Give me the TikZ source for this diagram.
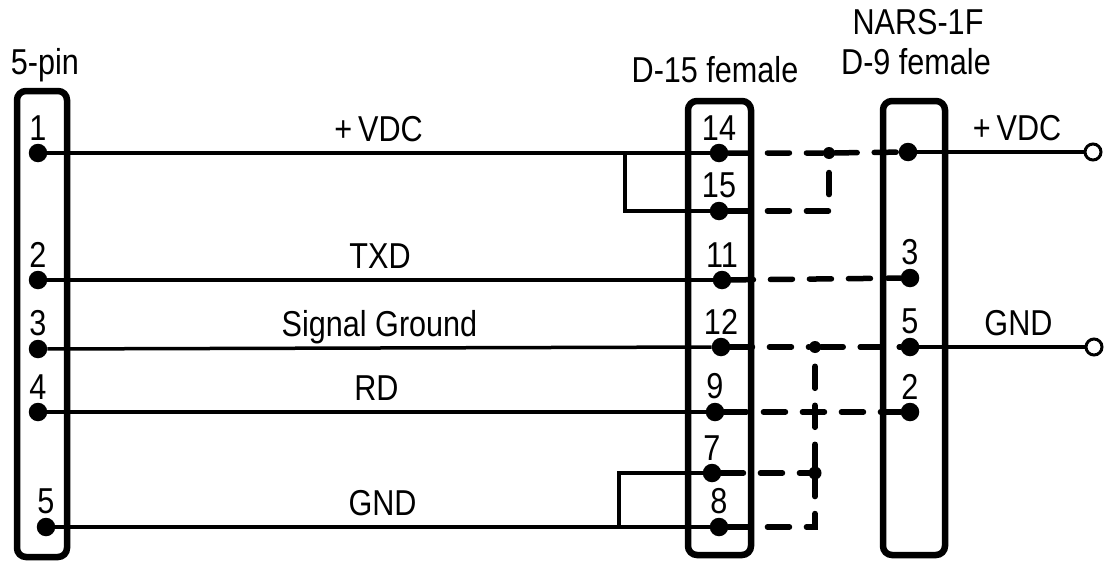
\documentclass[tikz,border=0pt]{standalone}
\usepackage{fontspec}
\setmainfont{Liberation Sans}[FakeStretch=0.85]

\tikzset{
  conn/.style={line width=6.5pt, rounded corners=9pt},
  wire/.style={line width=3.5pt},
  link/.style={line width=5.5pt, line cap=round, dash pattern=on 22pt off 17pt},
  pin/.style={circle, fill, inner sep=0pt, minimum size=18.5pt,
    every label/.style={inner sep=0pt, yshift=6pt}},
  jdot/.style={circle, fill, inner sep=0pt, minimum size=12pt},
  term/.style={circle, draw, line width=3pt, fill=white, inner sep=0pt,
    minimum size=16pt},
  wirelab/.style={anchor=base, yshift=12pt, inner sep=0pt},
}

\begin{document}
\begin{tikzpicture}[x=1pt, y=-1pt, font=\fontsize{36}{40}\selectfont]
      \useasboundingbox (0,0) rectangle (1104,562);

      \draw[conn] (17,91) rectangle (67,557);
      \draw[conn] (688,101) rectangle (751,555);
      \draw[conn] (883,101) rectangle (945,555);

      \node (h5pin) at (45,65) {5-pin};
      \node (hd15) at (715,70) {D-15 female};
      \node (hnars) at (918,22) {NARS-1F};
      \node (hd9) at (916,62) {D-9 female};

      \node[pin, label=above:1] (a1) at (38,153) {};
      \node[pin, label=above:2] (a2) at (38,280) {};
      \node[pin, label=above:3] (a3) at (38,349) {};
      \node[pin, label=above:4] (a4) at (38,412) {};
      \node[pin, label=above:5] (a5) at (46,527) {};

      \node[pin, label=above:14] (b14) at (719,153) {};
      \node[pin, label=above:15] (b15) at (719,211) {};
      \node[pin, label=above:11] (b11) at (722,280) {};
      \node[pin, label=above:12] (b12) at (721,347) {};
      \node[pin, label=above:9] (b9) at (715,412) {};
      \node[pin, label=above:7] (b7) at (712,473) {};
      \node[pin, label=above:8] (b8) at (719,527) {};

      \node[pin] (c1) at (908,152) {};
      \node[pin, label=above:3] (c3) at (910,278) {};
      \node[pin, label=above:5] (c5) at (910,347) {};
      \node[pin, label=above:2] (c2) at (910,412) {};

      \node[term] (tv) at (1093,152) {};
      \node[term] (tg) at (1094,347) {};

      \coordinate (s1) at (625,153);
      \coordinate (s5) at (619,527);
      \node[jdot] (j1) at (829,153) {};
      \node[jdot] (j2) at (815,347) {};
      \node[jdot, minimum size=13pt] (j3) at (815,473) {};

      \draw[wire] (a1) -- node[wirelab] (lvdc) {+\,VDC} (b14);
      \draw[wire] (s1) |- (b15);
      \draw[wire] (a2) -- node[wirelab] (ltxd) {TXD} (b11);
      \draw[wire] (a3) -- node[wirelab] (lsg) {Signal Ground} (b12);
      \draw[wire] (a4) -- node[wirelab] (lrd) {RD} (b9);
      \draw[wire] (a5) -- node[wirelab] (lgnd) {GND} (b8);
      \draw[wire] (s5) |- (b7);

      \draw[wire] (c1) -- node[wirelab, pos=0.6] (ovdc) {+\,VDC} (tv);
      \draw[wire] (c5) -- node[wirelab, pos=0.6] (ognd) {GND} (tg);

      \draw[link] (b14) -- (j1) -- (c1);
      \draw[link] (b15) -| (j1);
      \draw[link] (b11) -- (c3);
      \draw[link] (b12) -- (j2) -- (c5);
      \draw[link] (b9) -- (c2);
      \draw[link] (b7) -- (j3);
      \draw[link] (b8) -| (j3) -- (j2);
    \end{tikzpicture}
\end{document}
